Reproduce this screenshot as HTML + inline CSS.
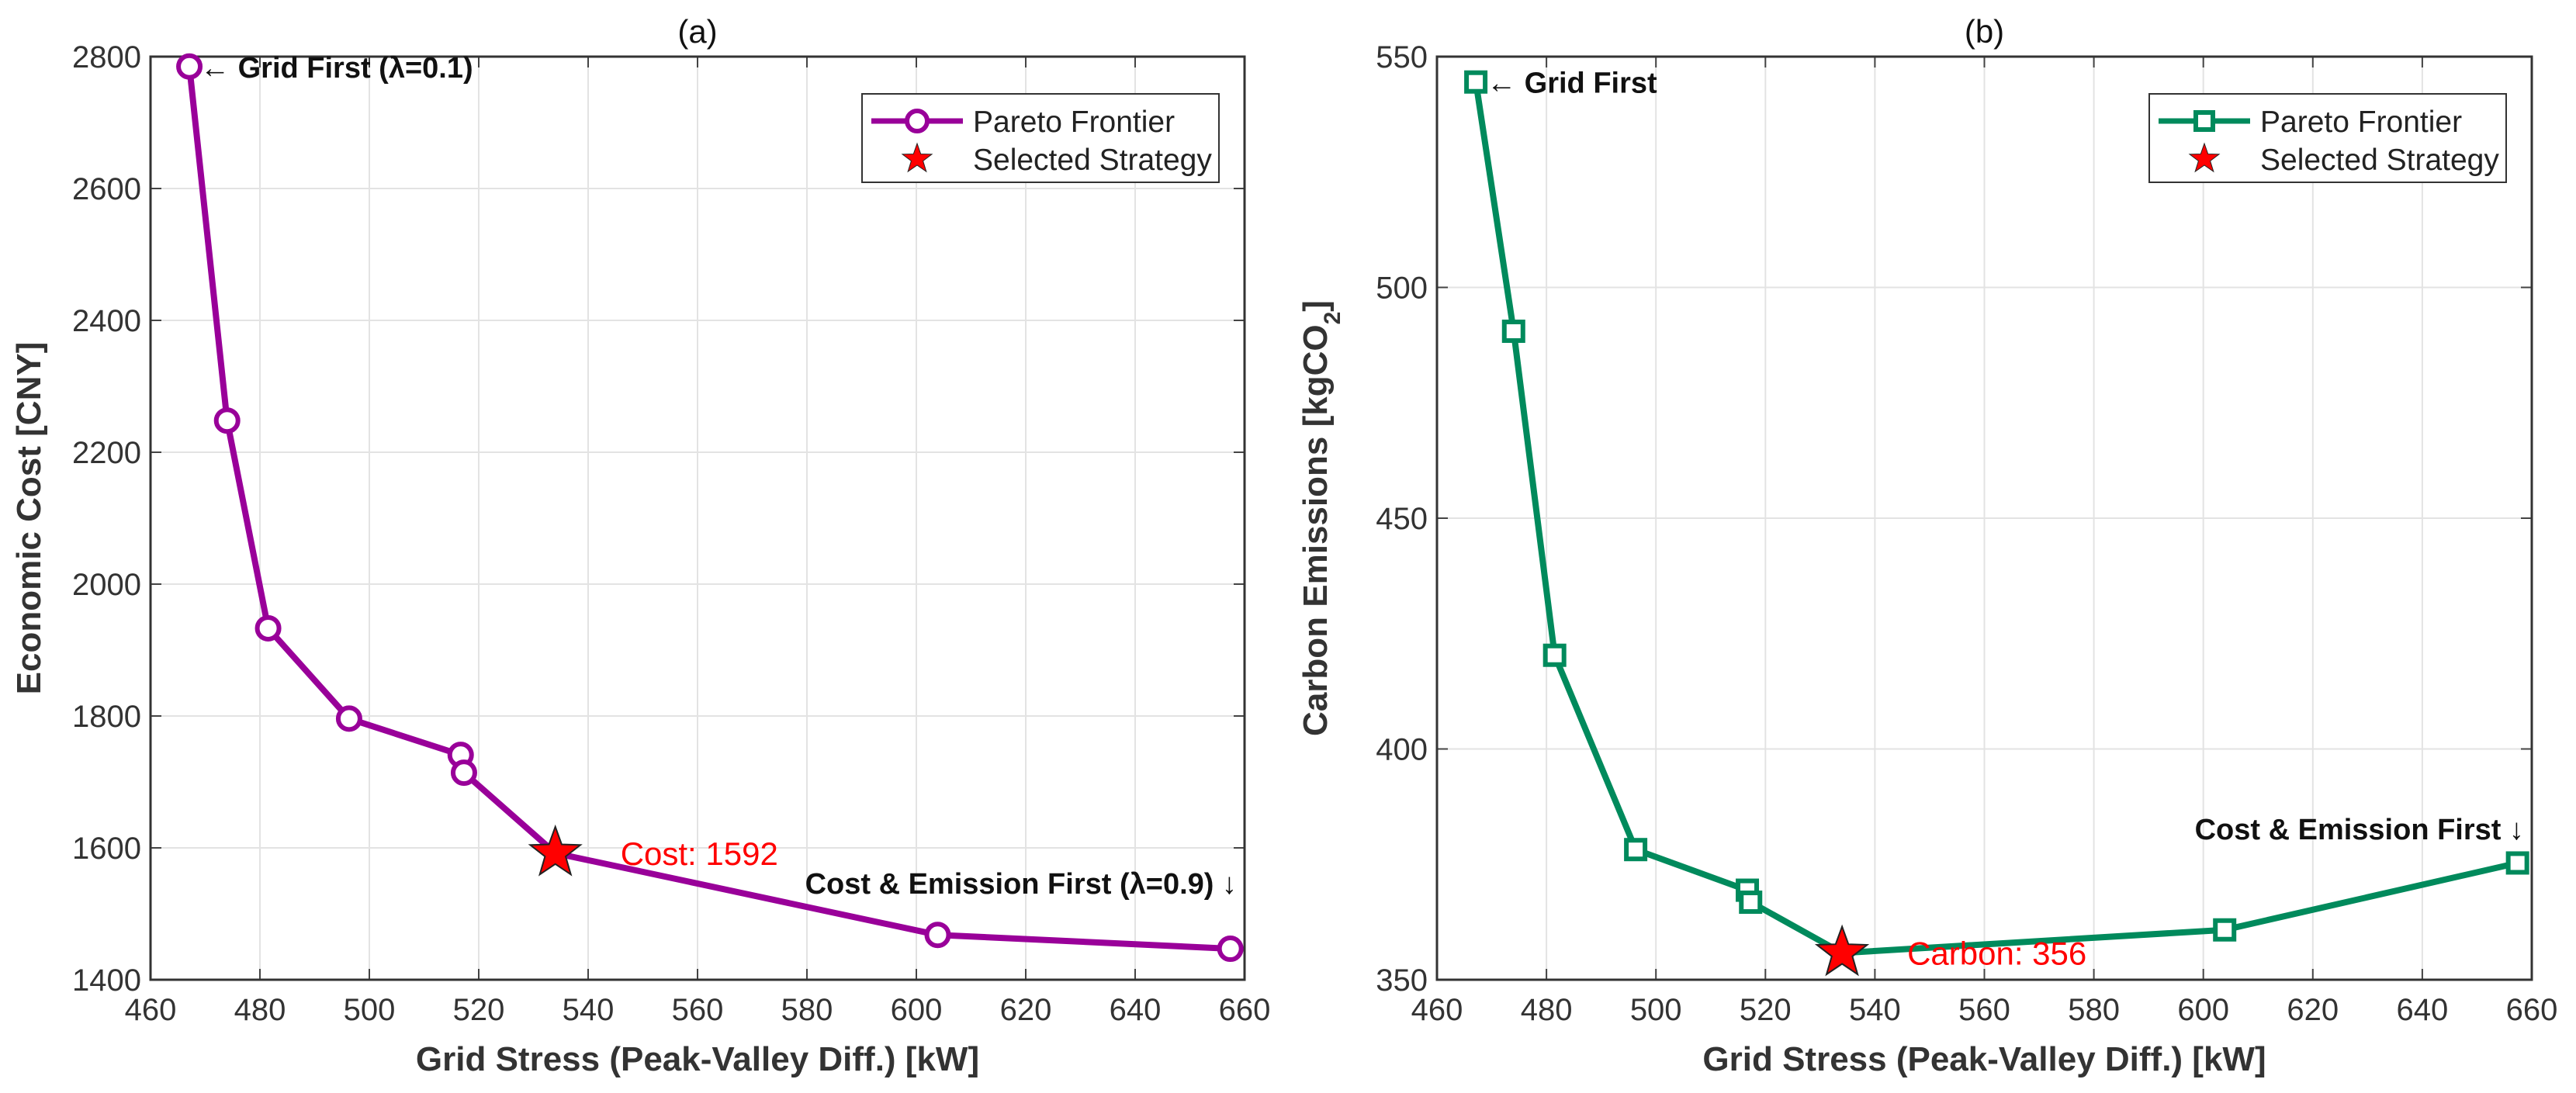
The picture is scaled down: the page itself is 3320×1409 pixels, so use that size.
<!DOCTYPE html>
<html><head><meta charset="utf-8">
<style>
html,body{margin:0;padding:0;background:#fff;}
svg{display:block;font-family:"Liberation Sans",Arial,sans-serif;}
</style></head>
<body>
<svg id="chart" width="3320" height="1409" viewBox="0 0 3320 1409" xmlns="http://www.w3.org/2000/svg"></svg>
<script>
const gridStress = [467.1, 474.0, 481.5, 496.3, 516.7, 517.3, 534.0, 603.9, 657.4];
const econCost = [2785, 2248, 1933, 1796, 1741, 1714, 1592, 1468, 1447];
const carbon = [544.5, 490.5, 420.3, 378.2, 369.4, 366.8, 355.8, 360.8, 375.3];
const selectedIndex = 6;
const xTicks = [460, 480, 500, 520, 540, 560, 580, 600, 620, 640, 660];
const yTicksA = [1400, 1600, 1800, 2000, 2200, 2400, 2600, 2800];
const yTicksB = [350, 400, 450, 500, 550];

const NS = "http://www.w3.org/2000/svg";
const svg = document.getElementById('chart');
function mk(tag, attrs, parent, text) {
  const e = document.createElementNS(NS, tag);
  for (const k in attrs) e.setAttribute(k, attrs[k]);
  if (text !== undefined) e.textContent = text;
  (parent || svg).appendChild(e);
  return e;
}
function starPath(cx, cy, R, r) {
  let d = '';
  for (let i = 0; i < 10; i++) {
    const ang = -Math.PI / 2 + i * Math.PI / 5;
    const rr = i % 2 === 0 ? R : r;
    d += (i ? 'L' : 'M') + (cx + rr * Math.cos(ang)).toFixed(1) + ',' + (cy + rr * Math.sin(ang)).toFixed(1);
  }
  return d + 'Z';
}

function panel(opt) {
  const L = opt.left, R = opt.right, T = 73, B = 1263;
  const xMin = 460, xMax = 660, yMin = opt.yMin, yMax = opt.yMax;
  const sx = v => L + (v - xMin) / (xMax - xMin) * (R - L);
  const sy = v => B - (v - yMin) / (yMax - yMin) * (B - T);
  const g = mk('g', {});
  
  

  xTicks.forEach(t => {
    const x = sx(t);
    const gl = mk('line', {x1: x, x2: x, y1: T, y2: B, stroke: '#e3e3e3', 'stroke-width': 2}, g);
    
    
    mk('line', {x1: x, x2: x, y1: B, y2: B - 14, stroke: '#444', 'stroke-width': 2}, g);
    mk('line', {x1: x, x2: x, y1: T, y2: T + 14, stroke: '#444', 'stroke-width': 2}, g);
    const tl = mk('text', {x: x, y: B + 52, 'font-size': 40, fill: '#333', 'text-anchor': 'middle'}, g, String(t));
    
    
  });
  opt.yTicks.forEach(t => {
    const y = sy(t);
    const gl = mk('line', {x1: L, x2: R, y1: y, y2: y, stroke: '#e3e3e3', 'stroke-width': 2}, g);
    
    
    mk('line', {x1: L, x2: L + 14, y1: y, y2: y, stroke: '#444', 'stroke-width': 2}, g);
    mk('line', {x1: R, x2: R - 14, y1: y, y2: y, stroke: '#444', 'stroke-width': 2}, g);
    const tl = mk('text', {x: L - 12, y: y + 14, 'font-size': 40, fill: '#333', 'text-anchor': 'end'}, g, String(t));
    
    
  });
  const box = mk('rect', {x: L, y: T, width: R - L, height: B - T, fill: 'none', stroke: '#333', 'stroke-width': 3}, g);
  
  

  const ti = mk('text', {x: (L + R) / 2, y: 55, 'font-size': 42, fill: '#111', 'text-anchor': 'middle'}, g, opt.title);
  
  
  const xl = mk('text', {x: (L + R) / 2, y: 1380, 'font-size': 44, 'font-weight': 'bold', fill: '#333', 'text-anchor': 'middle'}, g, 'Grid Stress (Peak-Valley Diff.) [kW]');
  
  
  const yl = mk('text', {x: 0, y: 0, 'font-size': 44, 'font-weight': 'bold', fill: '#333', 'text-anchor': 'middle', transform: 'translate(' + (L - 142) + ',' + ((T + B) / 2) + ') rotate(-90)'}, g);
  
  
  if (opt.sub) {
    yl.appendChild(document.createTextNode('Carbon Emissions [kgCO'));
    mk('tspan', {'baseline-shift': 'sub', 'font-size': 30}, yl, '2');
    yl.appendChild(document.createTextNode(']'));
  } else {
    yl.textContent = opt.ylabel;
  }

  const vals = opt.values;
  const pts = gridStress.map((x, i) => sx(x).toFixed(1) + ',' + sy(vals[i]).toFixed(1)).join(' ');
  const line = mk('polyline', {points: pts, fill: 'none', stroke: opt.color, 'stroke-width': 8, 'stroke-linejoin': 'round'}, g);
  
  
  gridStress.forEach((x, i) => {
    if (i === selectedIndex) return;
    const cx = sx(x), cy = sy(vals[i]);
    let m;
    if (opt.marker === 'circle') {
      m = mk('circle', {cx: cx, cy: cy, r: 14, fill: '#fff', stroke: opt.color, 'stroke-width': 6}, g);
    } else {
      m = mk('rect', {x: cx - 12, y: cy - 12, width: 24, height: 24, fill: '#fff', stroke: opt.color, 'stroke-width': 6}, g);
    }
    
    
  });
  const scx = sx(gridStress[selectedIndex]), scy = sy(vals[selectedIndex]);
  const st = mk('path', {d: starPath(scx, scy, 34, 14), fill: '#ff0000', stroke: '#222', 'stroke-width': 2}, g);
  
  
  const sl = mk('text', {x: scx + 84, y: scy + 15, 'font-size': 42, fill: '#ff0000'}, g, opt.selLabel + Math.round(vals[selectedIndex]));
  
  

  const a1 = mk('text', {x: sx(gridStress[0]) + 14, y: sy(vals[0]) + 14, 'font-size': 38, 'font-weight': 'bold', fill: '#111'}, g);
  
  
  mk('tspan', {'font-weight': 'normal'}, a1, '\u2190 ');
  a1.appendChild(document.createTextNode(opt.ann1));
  const a2 = mk('text', {x: R - 10, y: opt.ann2y, 'font-size': 38, 'font-weight': 'bold', fill: '#111', 'text-anchor': 'end'}, g);
  
  
  a2.appendChild(document.createTextNode(opt.ann2));
  mk('tspan', {'font-weight': 'normal'}, a2, ' \u2193');

  const lg = mk('g', {}, g);
  
  
  const lx = R - 493, ly = 121;
  mk('rect', {x: lx, y: ly, width: 460, height: 114, fill: '#fff', stroke: '#333', 'stroke-width': 2}, lg);
  const e1 = mk('g', {}, lg);
  
  
  mk('line', {x1: lx + 12, x2: lx + 130, y1: ly + 35, y2: ly + 35, stroke: opt.color, 'stroke-width': 7}, e1);
  if (opt.marker === 'circle') mk('circle', {cx: lx + 71, cy: ly + 35, r: 13, fill: '#fff', stroke: opt.color, 'stroke-width': 6}, e1);
  else mk('rect', {x: lx + 60, y: ly + 24, width: 22, height: 22, fill: '#fff', stroke: opt.color, 'stroke-width': 6}, e1);
  mk('text', {x: lx + 143, y: ly + 49, 'font-size': 39, fill: '#222'}, e1, 'Pareto Frontier');
  const e2 = mk('g', {}, lg);
  
  
  mk('path', {d: starPath(lx + 71, ly + 84, 20, 8), fill: '#ff0000', stroke: '#222', 'stroke-width': 1}, e2);
  mk('text', {x: lx + 143, y: ly + 98, 'font-size': 39, fill: '#222'}, e2, 'Selected Strategy');
}

panel({name: 'panel-a-cost', left: 194, right: 1604, yMin: 1400, yMax: 2800, yTicks: yTicksA, values: econCost,
  color: '#990099', marker: 'circle', title: '(a)', ylabel: 'Economic Cost [CNY]', selLabel: 'Cost: ',
  ann1: 'Grid First (\u03bb=0.1)', ann2: 'Cost & Emission First (\u03bb=0.9)', ann2y: 1152});
panel({name: 'panel-b-carbon', left: 1852, right: 3263, yMin: 350, yMax: 550, yTicks: yTicksB, values: carbon,
  color: '#008a5c', marker: 'square', title: '(b)', sub: true, selLabel: 'Carbon: ',
  ann1: 'Grid First', ann2: 'Cost & Emission First', ann2y: 1082});
</script>
</body></html>
